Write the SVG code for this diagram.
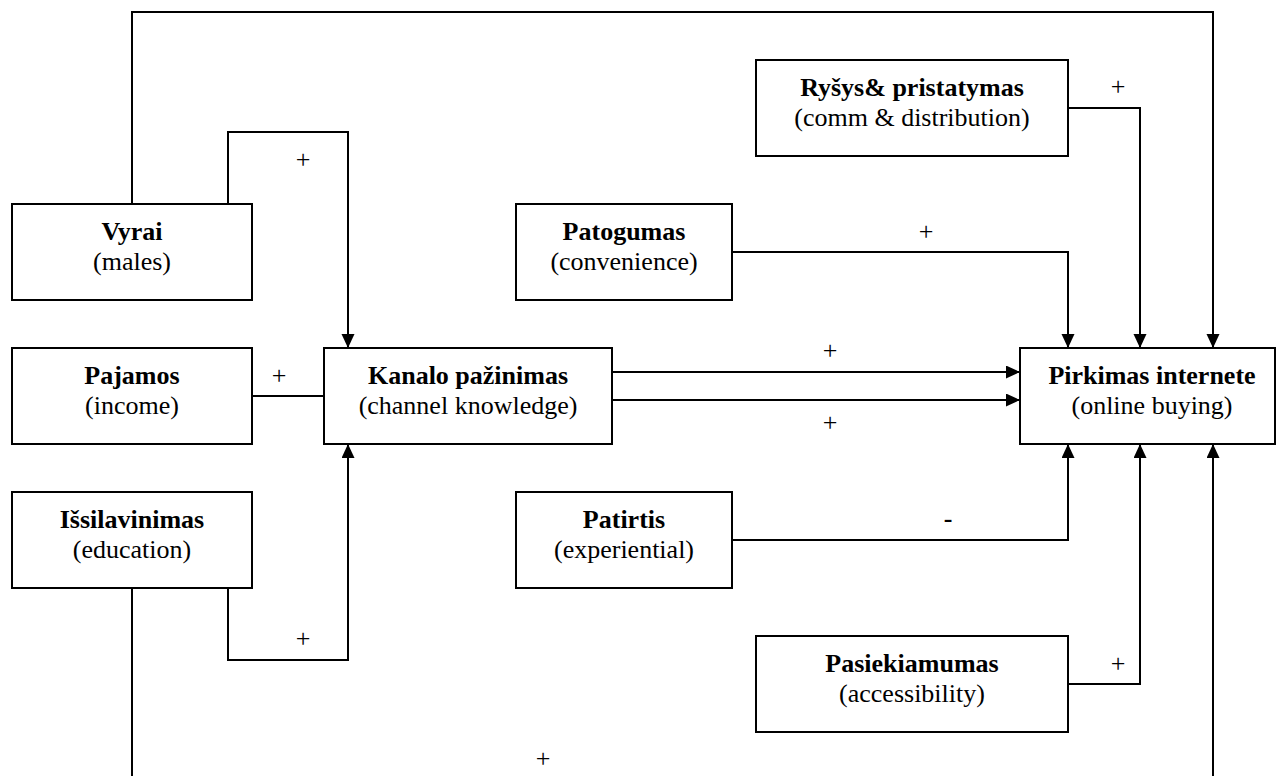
<svg xmlns="http://www.w3.org/2000/svg" width="1276" height="776" viewBox="0 0 1276 776">
  <style>
    .box { fill: #fff; stroke: #000; stroke-width: 2; }
    .wire { fill: none; stroke: #000; stroke-width: 2; }
    text { font-family: "Liberation Serif", "Times New Roman", serif; font-size: 26px; fill: #000; text-anchor: middle; }
    .t { font-weight: bold; }
  </style>
  <defs>
    <marker id="arrow" markerUnits="userSpaceOnUse" markerWidth="14" markerHeight="14" refX="14" refY="6.5" orient="auto">
      <path d="M0,0 L14,6.5 L0,13 Z" fill="#000"/>
    </marker>
  </defs>
  <rect width="1276" height="776" fill="#fff"/>

  <g id="connectors">
    <!-- males -> online buying (top loop) -->
    <path class="wire" d="M132,204 V12 H1213 V348" marker-end="url(#arrow)"/>
    <!-- males -> channel knowledge -->
    <path class="wire" d="M228,204 V132 H348 V348" marker-end="url(#arrow)"/>
    <!-- income - channel knowledge -->
    <path class="wire" d="M252,396 H324"/>
    <!-- education -> channel knowledge -->
    <path class="wire" d="M228,588 V660 H348 V444" marker-end="url(#arrow)"/>
    <!-- education -> online buying (bottom loop) -->
    <path class="wire" d="M132,588 V790 H1213 V444" marker-end="url(#arrow)"/>
    <!-- channel knowledge -> online buying -->
    <path class="wire" d="M612,372 H1020" marker-end="url(#arrow)"/>
    <path class="wire" d="M612,400 H1020" marker-end="url(#arrow)"/>
    <!-- comm & distribution -> online buying -->
    <path class="wire" d="M1068,108 H1140 V348" marker-end="url(#arrow)"/>
    <!-- convenience -> online buying -->
    <path class="wire" d="M732,252 H1068 V348" marker-end="url(#arrow)"/>
    <!-- experiential -> online buying -->
    <path class="wire" d="M732,540 H1068 V444" marker-end="url(#arrow)"/>
    <!-- accessibility -> online buying -->
    <path class="wire" d="M1068,684 H1140 V444" marker-end="url(#arrow)"/>

    <!-- effect signs -->
    <text x="303" y="168">+</text>
    <text x="279" y="384">+</text>
    <text x="303" y="647">+</text>
    <text x="543" y="767">+</text>
    <text x="1118" y="95">+</text>
    <text x="926" y="240">+</text>
    <text x="830" y="359">+</text>
    <text x="830" y="431">+</text>
    <text class="t" x="948" y="527">-</text>
    <text x="1118" y="672">+</text>
  </g>

  <g id="males">
    <rect class="box" x="12" y="204" width="240" height="96"/>
    <text class="t" x="132" y="240">Vyrai</text>
    <text x="132" y="270">(males)</text>
  </g>
  <g id="income">
    <rect class="box" x="12" y="348" width="240" height="96"/>
    <text class="t" x="132" y="384">Pajamos</text>
    <text x="132" y="414">(income)</text>
  </g>
  <g id="education">
    <rect class="box" x="12" y="492" width="240" height="96"/>
    <text class="t" x="132" y="528">Išsilavinimas</text>
    <text x="132" y="558">(education)</text>
  </g>
  <g id="channel-knowledge">
    <rect class="box" x="324" y="348" width="288" height="96"/>
    <text class="t" x="468" y="384">Kanalo pažinimas</text>
    <text x="468" y="414">(channel knowledge)</text>
  </g>
  <g id="comm-distribution">
    <rect class="box" x="756" y="60" width="312" height="96"/>
    <text class="t" x="912" y="96">Ryšys&amp; pristatymas</text>
    <text x="912" y="126">(comm &amp; distribution)</text>
  </g>
  <g id="convenience">
    <rect class="box" x="516" y="204" width="216" height="96"/>
    <text class="t" x="624" y="240">Patogumas</text>
    <text x="624" y="270">(convenience)</text>
  </g>
  <g id="experiential">
    <rect class="box" x="516" y="492" width="216" height="96"/>
    <text class="t" x="624" y="528">Patirtis</text>
    <text x="624" y="558">(experiential)</text>
  </g>
  <g id="accessibility">
    <rect class="box" x="756" y="636" width="312" height="96"/>
    <text class="t" x="912" y="672">Pasiekiamumas</text>
    <text x="912" y="702">(accessibility)</text>
  </g>
  <g id="online-buying">
    <rect class="box" x="1020" y="348" width="255" height="96"/>
    <text class="t" x="1152" y="384">Pirkimas internete</text>
    <text x="1152" y="414">(online buying)</text>
  </g>
</svg>
